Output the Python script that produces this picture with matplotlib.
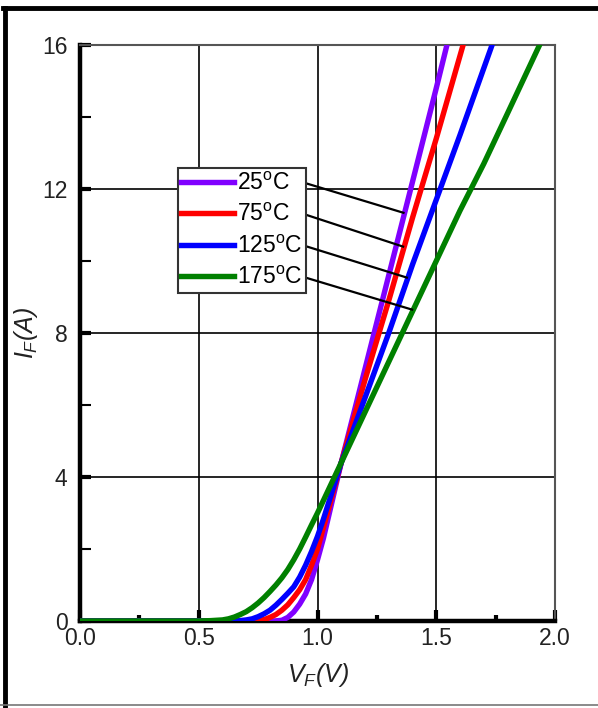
import matplotlib
matplotlib.use("Agg")
import matplotlib.pyplot as plt
import numpy as np
from matplotlib.lines import Line2D

plt.rcParams["font.family"] = ["Liberation Sans", "DejaVu Sans"]
plt.rcParams["mathtext.fontset"] = "custom"
plt.rcParams["mathtext.rm"] = "Liberation Sans"
plt.rcParams["mathtext.it"] = "Liberation Sans:italic"

# forward characteristics, (V_F [V], I_F [A])
v_25 = [0.0, 0.50, 0.82, 0.85, 0.875, 0.90, 0.925, 0.95, 0.975, 1.00, 1.025, 1.05, 1.075,
        1.10, 1.20, 1.30, 1.40, 1.50, 1.545]
i_25 = [0.0, 0.0, 0.0, 0.02, 0.1, 0.25, 0.47, 0.75, 1.15, 1.7, 2.3, 3.0, 3.7,
        4.4, 7.0, 9.6, 12.2, 14.8, 16.0]

v_75 = [0.0, 0.50, 0.74, 0.76, 0.78, 0.80, 0.825, 0.85, 0.875, 0.90, 0.925, 0.95, 0.975,
        1.00, 1.025, 1.05, 1.075, 1.10, 1.20, 1.30, 1.40, 1.50, 1.613]
i_75 = [0.0, 0.0, 0.0, 0.02, 0.05, 0.1, 0.18, 0.3, 0.45, 0.65, 0.87, 1.15, 1.55,
        2.0, 2.6, 3.2, 3.8, 4.4, 6.7, 8.9, 11.2, 13.4, 16.0]

v_125 = [0.0, 0.50, 0.66, 0.70, 0.725, 0.75, 0.775, 0.80, 0.825, 0.85, 0.875, 0.90, 0.925,
         0.95, 0.975, 1.00, 1.025, 1.05, 1.075, 1.10, 1.20, 1.30, 1.40, 1.50, 1.60, 1.735]
i_125 = [0.0, 0.0, 0.0, 0.03, 0.06, 0.12, 0.2, 0.3, 0.44, 0.6, 0.77, 0.95, 1.22,
         1.55, 1.93, 2.35, 2.83, 3.35, 3.87, 4.4, 6.2, 8.0, 9.9, 11.7, 13.5, 16.0]

v_175 = [0.0, 0.50, 0.55, 0.60, 0.625, 0.65, 0.675, 0.70, 0.725, 0.75, 0.775, 0.80, 0.825,
         0.85, 0.875, 0.90, 0.925, 0.95, 0.975, 1.00, 1.05, 1.10, 1.20, 1.30, 1.40, 1.50,
         1.60, 1.70, 1.80, 1.935]
i_175 = [0.0, 0.0, 0.01, 0.03, 0.06, 0.11, 0.18, 0.26, 0.37, 0.5, 0.65, 0.82, 1.0,
         1.2, 1.43, 1.7, 2.0, 2.33, 2.67, 3.0, 3.7, 4.4, 5.8, 7.2, 8.6, 10.0,
         11.4, 12.7, 14.1, 16.0]

labels = ["25$^{\\rm o}$C", "75$^{\\rm o}$C", "125$^{\\rm o}$C", "175$^{\\rm o}$C"]
colors = ["#8000ff", "#ff0000", "#0000ff", "#008000"]
curves = [(v_25, i_25), (v_75, i_75), (v_125, i_125), (v_175, i_175)]

# currents where the legend leader lines touch each curve
leader_i = [11.33, 10.39, 9.53, 8.64]

x_ticks = [0.0, 0.5, 1.0, 1.5, 2.0]
x_tick_labels = ["0.0", "0.5", "1.0", "1.5", "2.0"]
y_ticks = [0, 4, 8, 12, 16]

fig = plt.figure(figsize=(5.98, 7.08), dpi=100)
ax = fig.add_axes([80 / 598, 1 - 621 / 708, 475 / 598, 576 / 708])

for (v, i), c, lab in zip(curves, colors, labels):
    ax.plot(v, i, color=c, lw=3.9, label=lab, solid_joinstyle="round", zorder=3)

ax.set_xlim(0, 2.0)
ax.set_ylim(0, 16)
ax.set_xticks(x_ticks)
ax.set_xticklabels(x_tick_labels)
ax.set_yticks(y_ticks)
ax.set_xticks(np.arange(0.25, 2.0, 0.5), minor=True)
ax.set_yticks(np.arange(2, 16, 4), minor=True)
ax.grid(True, which="major", color="black", lw=1.2)
ax.set_axisbelow(True)

ax.tick_params(which="both", direction="in", top=False, right=False, color="black")
ax.tick_params(axis="x", which="major", length=8, width=3, labelsize=16.5, pad=4, labelcolor="#222")
ax.tick_params(axis="x", which="minor", length=4, width=3)
ax.tick_params(axis="y", which="major", length=8, width=3, labelsize=16.5, pad=9, labelcolor="#222")
ax.tick_params(axis="y", which="minor", length=8, width=1.5)

for side in ("left", "bottom"):
    ax.spines[side].set_linewidth(3.2)
    ax.spines[side].set_color("black")
for side in ("top", "right"):
    ax.spines[side].set_linewidth(1.5)
    ax.spines[side].set_color("#555")

ax.set_xlabel("$V_F$(V)", fontsize=18, fontstyle="italic", color="#222")
ax.set_ylabel("$I_F$(A)", fontsize=18, fontstyle="italic", color="#222")
ax.xaxis.set_label_coords(0.5, -0.07)
ax.yaxis.set_label_coords(-0.084, 0.5)

leg = ax.legend(loc="upper left", bbox_to_anchor=(0.206, 0.786), borderaxespad=0,
                fancybox=False, edgecolor="#333", framealpha=1, fontsize=16.5,
                handlelength=2.3, handletextpad=0.12, labelspacing=0.37, borderpad=0.15)
leg.get_frame().set_linewidth(1.5)
leg.set_zorder(5)

# leader lines from the legend rows to the curves
fig.canvas.draw()
to_data = ax.transData.inverted()
box = leg.get_window_extent()
for txt, (v, i), cur in zip(leg.get_texts(), curves, leader_i):
    tb = txt.get_window_extent()
    x0, y0 = to_data.transform((box.x1, (tb.y0 + tb.y1) / 2))
    x1 = np.interp(cur, i, v)
    ax.plot([x0, x1], [y0, cur], color="black", lw=1.6, zorder=4, solid_capstyle="butt")

# page frame of the original figure
fig.add_artist(Line2D([5 / 598, 5 / 598], [0, 1 - 8 / 708], color="black", lw=3.5))
fig.add_artist(Line2D([3 / 598, 1], [1 - 8 / 708, 1 - 8 / 708], color="black", lw=3.5))
fig.add_artist(Line2D([0, 1], [3 / 708, 3 / 708], color="#777", lw=1.2))

fig.savefig("out.png", dpi=100)
